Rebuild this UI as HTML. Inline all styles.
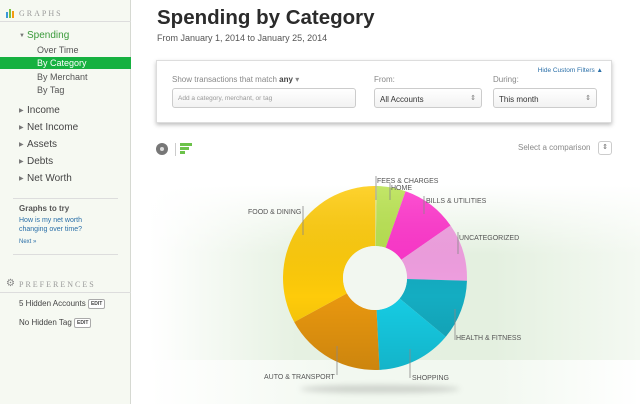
<!DOCTYPE html>
<html><head><meta charset="utf-8"><style>
*{margin:0;padding:0;box-sizing:border-box}
body{width:640px;height:404px;overflow:hidden;background:#fff;font-family:"Liberation Sans",Arial,sans-serif;position:relative}
.side{position:absolute;left:0;top:0;width:131px;height:404px;background:#f6f9f2;border-right:1px solid #d6d9d2}
.a{position:absolute;white-space:nowrap}
.hdr{font-family:"Liberation Serif",serif;font-size:8px;letter-spacing:2px;color:#9a9a9a}
.nav{font-size:10px;color:#444}
.sub{font-size:9px;color:#555}
.tri{font-size:6px;color:#777}
.edit{display:inline-block;border:1px solid #aaa;border-radius:2px;font-size:5px;padding:1px 2px;color:#444;background:#fff;vertical-align:middle;font-weight:bold}
.box{position:absolute;left:156px;top:60px;width:456px;height:63px;border:1px solid #ddd;box-shadow:0 2px 4px rgba(0,0,0,.25);background:#fff}
.inp{position:absolute;border:1px solid #ccc;border-radius:3px;height:20px;font-size:8px;color:#333;padding:6px 5px;background:linear-gradient(#fff,#f2f2f2)}
</style></head><body>
<div class="side">
  <div class="a" style="left:6px;top:8px;width:8px;height:10px">
    <div style="position:absolute;left:0;top:4px;width:2px;height:6px;background:#3a9ad9"></div>
    <div style="position:absolute;left:3px;top:1px;width:2px;height:9px;background:#7bc142"></div>
    <div style="position:absolute;left:6px;top:3px;width:2px;height:7px;background:#f39c12"></div>
  </div>
  <div class="a hdr" style="left:19px;top:9px">GRAPHS</div>
  <div style="position:absolute;left:0;top:21px;width:131px;border-top:1px solid #ddd"></div>
  <div class="a tri" style="left:19px;top:33px">▼</div>
  <div class="a nav" style="left:27px;top:30px;color:#3a9a3a">Spending</div>
  <div class="a sub" style="left:37px;top:45px">Over Time</div>
  <div style="position:absolute;left:0;top:57px;width:131px;height:12px;background:#16b140"></div>
  <div class="a sub" style="left:37px;top:58px;color:#fff">By Category</div>
  <div class="a sub" style="left:37px;top:72px">By Merchant</div>
  <div class="a sub" style="left:37px;top:85px">By Tag</div>
  <div class="a tri" style="left:19px;top:107px">▶</div><div class="a nav" style="left:27px;top:105px">Income</div>
  <div class="a tri" style="left:19px;top:124px">▶</div><div class="a nav" style="left:27px;top:122px">Net Income</div>
  <div class="a tri" style="left:19px;top:141px">▶</div><div class="a nav" style="left:27px;top:139px">Assets</div>
  <div class="a tri" style="left:19px;top:158px">▶</div><div class="a nav" style="left:27px;top:156px">Debts</div>
  <div class="a tri" style="left:19px;top:175px">▶</div><div class="a nav" style="left:27px;top:173px">Net Worth</div>
  <div style="position:absolute;left:13px;top:198px;width:105px;border-top:1px solid #ddd"></div>
  <div class="a" style="left:19px;top:204px;font-size:8px;font-weight:bold;color:#555">Graphs to try</div>
  <div class="a" style="left:19px;top:216px;font-size:7px;color:#2a6fa8;line-height:9px">How is my net worth<br>changing over time?</div>
  <div class="a" style="left:19px;top:239px;font-size:6px;color:#2a6fa8">Next »</div>
  <div style="position:absolute;left:13px;top:254px;width:105px;border-top:1px solid #ddd"></div>
  <div class="a" style="left:6px;top:278px;font-size:10px;color:#888">⚙</div>
  <div class="a hdr" style="left:19px;top:280px">PREFERENCES</div>
  <div style="position:absolute;left:0;top:292px;width:131px;border-top:1px solid #ddd"></div>
  <div class="a" style="left:19px;top:299px;font-size:8px;color:#444">5 Hidden Accounts <span class="edit">EDIT</span></div>
  <div class="a" style="left:19px;top:318px;font-size:8px;color:#444">No Hidden Tag <span class="edit">EDIT</span></div>
</div>

<div class="a" style="left:157px;top:6px;font-size:20.5px;font-weight:bold;color:#2b2b2b">Spending by Category</div>
<div class="a" style="left:157px;top:33px;font-size:9px;color:#555">From January 1, 2014 to January 25, 2014</div>

<div class="box">
  <div class="a" style="right:8px;top:6px;font-size:6.5px;color:#2a6fa8">Hide Custom Filters ▲</div>
  <div class="a" style="left:15px;top:14px;font-size:8px;color:#888">Show transactions that match <b style="color:#444">any</b> ▾</div>
  <div class="inp" style="left:15px;top:27px;width:184px;font-size:6.5px;color:#999">Add a category, merchant, or tag</div>
  <div class="a" style="left:217px;top:14px;font-size:8px;color:#888">From:</div>
  <div class="inp" style="left:217px;top:27px;width:108px">All Accounts<span style="position:absolute;right:5px;top:5px;font-size:7px;color:#777">⇕</span></div>
  <div class="a" style="left:336px;top:14px;font-size:8px;color:#888">During:</div>
  <div class="inp" style="left:336px;top:27px;width:104px">This month<span style="position:absolute;right:5px;top:5px;font-size:7px;color:#777">⇕</span></div>
</div>

<div class="a" style="left:156px;top:143px;width:12px;height:12px;border-radius:50%;background:#777"><div style="position:absolute;left:4px;top:4px;width:4px;height:4px;border-radius:50%;background:#ddd"></div></div>
<div style="position:absolute;left:175px;top:143px;height:13px;border-left:1px solid #ccc"></div>
<div class="a" style="left:180px;top:143px;width:12px;height:3px;background:#6cc24a"></div>
<div class="a" style="left:180px;top:147px;width:9px;height:3px;background:#6cc24a"></div>
<div class="a" style="left:180px;top:151px;width:5px;height:3px;background:#6cc24a"></div>
<div class="a" style="left:518px;top:143px;font-size:8px;color:#888">Select a comparison</div>
<div class="a" style="left:598px;top:141px;width:14px;height:14px;border:1px solid #ccc;border-radius:3px;font-size:7px;text-align:center;line-height:12px;color:#666">⇕</div>

<div style="position:absolute;left:150px;top:185px;width:490px;height:175px;background:linear-gradient(90deg,#fff 0%,#e6f1e2 30%,#e4f0e0 70%,#f4f9f2 100%)"></div>
<div style="position:absolute;left:150px;top:185px;width:490px;height:175px;background:linear-gradient(#fff,rgba(255,255,255,0) 40%)"></div>
<div style="position:absolute;left:150px;top:360px;width:490px;height:44px;background:linear-gradient(90deg,#fff,#f2f8f0 40%,#f2f8f0 70%,#fff)"></div>
<div style="position:absolute;left:300px;top:385px;width:160px;height:8px;border-radius:50%;background:rgba(0,0,0,.15);filter:blur(3px)"></div>

<svg id="pie" width="640" height="404" style="position:absolute;left:0;top:0"></svg>
<script>
var cx=375,cy=278,R=92,r=32;
var segs=[[0,1.2,"#e8e070"],[1.2,19.4,"#b8e24e"],[19.4,55.2,"#ff35cc"],[55.2,91.7,"#f2a0e2"],[91.7,129.7,"#14adc2"],[129.7,177.2,"#16cce4"],[177.2,241.4,"#e8970f"],[241.4,360,"#fecb0a"]];
function p(a,rad){a=(a-90)*Math.PI/180;return [(cx+rad*Math.cos(a)).toFixed(2),(cy+rad*Math.sin(a)).toFixed(2)];}
var s="";
segs.forEach(function(g){var l=(g[1]-g[0])>180?1:0;var a=p(g[0],R),b=p(g[1],R),c=p(g[1],r),d=p(g[0],r);
s+='<path d="M'+a+' A'+R+' '+R+' 0 '+l+' 1 '+b+' L'+c+' A'+r+' '+r+' 0 '+l+' 0 '+d+' Z" fill="'+g[2]+'"/>';});
s+='<defs><linearGradient id="sh" x1="0" y1="0" x2="0" y2="1"><stop offset="0" stop-color="#fff" stop-opacity=".15"/><stop offset=".6" stop-color="#000" stop-opacity="0"/><stop offset="1" stop-color="#000" stop-opacity=".12"/></linearGradient></defs>';
s+='<circle cx="'+cx+'" cy="'+cy+'" r="'+R+'" fill="url(#sh)"/><circle cx="'+cx+'" cy="'+cy+'" r="'+r+'" fill="#f2f7f0"/>';
var L=[["FEES & CHARGES",377,180,376,176,200],["HOME",391,187,390,183,200],["BILLS & UTILITIES",426,200,424,196,214],["UNCATEGORIZED",459,237,458,232,254],["FOOD & DINING",248,211,303,206,235],["HEALTH & FITNESS",456,337,455,309,340],["AUTO & TRANSPORT",264,376,337,346,375],["SHOPPING",412,377,410,349,378]];
L.forEach(function(t){s+='<line x1="'+t[3]+'" y1="'+t[4]+'" x2="'+t[3]+'" y2="'+t[5]+'" stroke="#888" stroke-width=".8"/><text x="'+t[1]+'" y="'+(t[2]+3)+'" font-size="7" fill="#555" font-family="Liberation Sans,sans-serif">'+t[0].replace("&","&amp;")+'</text>';});
document.getElementById("pie").innerHTML=s;
</script>
</body></html>
